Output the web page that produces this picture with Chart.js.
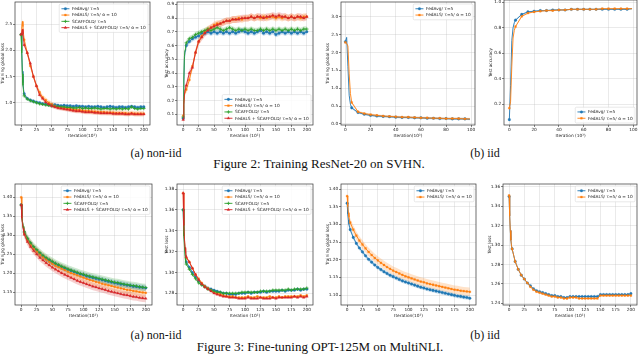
<!DOCTYPE html>
<html>
<head>
<meta charset="utf-8">
<script src="https://cdn.jsdelivr.net/npm/chart.js@4.4.0/dist/chart.umd.min.js"></script>
<style>
html, body { margin: 0; padding: 0; background: #fff; }
#page { position: relative; width: 640px; height: 354px; overflow: hidden; }
#page canvas { position: absolute; }
.cap { position: absolute; font-family: "Liberation Serif", "Times New Roman", serif; color: #111; white-space: nowrap; transform: translate(-50%, -50%); }
</style>
</head>
<body>
<div id="page">
  <div class="cap" style="left:156px;top:153px;font-size:12px">(a) non-iid</div>
  <div class="cap" style="left:485px;top:153px;font-size:12px">(b) iid</div>
  <div class="cap" style="left:319px;top:164px;font-size:13px">Figure 2: Training ResNet-20 on SVHN.</div>
  <div class="cap" style="left:156px;top:335px;font-size:12px">(a) non-iid</div>
  <div class="cap" style="left:485px;top:335px;font-size:12px">(b) iid</div>
  <div class="cap" style="left:320px;top:347px;font-size:13px">Figure 3: Fine-tuning OPT-125M on MultiNLI.</div>
</div>
<script>
// ---- data ----
const itersLong = [0, 1, 2, 3, 4, 5,
  10, 15, 20, 25, 30, 35, 40, 45, 50, 55,
  60, 65, 70, 75, 80, 85, 90, 95, 100, 105,
  110, 115, 120, 125, 130, 135, 140, 145, 150, 155,
  160, 165, 170, 175, 180, 185, 190, 195, 200];
const itersShort = [0, 1, 2, 3, 4, 5,
  10, 15, 20, 25, 30, 35, 40, 45, 50, 55,
  60, 65, 70, 75, 80, 85, 90, 95, 99];

const seriesNames = {
  avg: 'FedAvg/ τ=5',
  als: 'FedALS/ τ=5/ α = 10',
  scaf: 'SCAFFOLD/ τ=5',
  both: 'FedALS + SCAFFOLD/ τ=5/ α = 10'
};

// Figure 2 (a) non-iid: training loss
const svhnNonIidLossAvg = [2.30, 2.00, 1.60, 1.38, 1.25, 1.17,
  1.08, 1.05, 1.03, 1.01, 1.00, 0.98, 0.97, 0.96, 0.96, 0.96,
  0.95, 0.94, 0.95, 0.94, 0.94, 0.93, 0.94, 0.93, 0.93, 0.92,
  0.93, 0.92, 0.92, 0.93, 0.92, 0.91, 0.92, 0.93, 0.92, 0.91,
  0.92, 0.92, 0.91, 0.92, 0.93, 0.92, 0.91, 0.92, 0.92];
const svhnNonIidLossAls = [2.30, 2.45, 2.55, 2.45, 2.30, 2.20,
  1.95, 1.70, 1.50, 1.32, 1.20, 1.10, 1.05, 1.00, 0.97, 0.94,
  0.92, 0.91, 0.90, 0.89, 0.88, 0.87, 0.86, 0.86, 0.85, 0.84,
  0.84, 0.83, 0.83, 0.82, 0.82, 0.82, 0.81, 0.81, 0.81, 0.80,
  0.80, 0.80, 0.80, 0.79, 0.80, 0.79, 0.79, 0.79, 0.79];
const svhnNonIidLossScaf = [2.30, 1.95, 1.55, 1.33, 1.20, 1.13,
  1.07, 1.04, 1.02, 1.00, 0.98, 0.97, 0.96, 0.95, 0.94, 0.93,
  0.93, 0.92, 0.92, 0.91, 0.91, 0.90, 0.90, 0.91, 0.89, 0.90,
  0.89, 0.89, 0.90, 0.89, 0.88, 0.89, 0.89, 0.88, 0.89, 0.88,
  0.89, 0.88, 0.89, 0.88, 0.92, 0.89, 0.88, 0.89, 0.89];
const svhnNonIidLossBoth = [2.30, 2.35, 2.40, 2.30, 2.20, 2.10,
  1.95, 1.75, 1.50, 1.32, 1.15, 1.08, 1.01, 0.97, 0.94, 0.92,
  0.90, 0.89, 0.88, 0.87, 0.86, 0.85, 0.84, 0.84, 0.83, 0.82,
  0.82, 0.82, 0.81, 0.81, 0.80, 0.80, 0.80, 0.80, 0.79, 0.79,
  0.79, 0.79, 0.78, 0.78, 0.79, 0.78, 0.78, 0.78, 0.78];

// Figure 2 (a) non-iid: test accuracy
const svhnNonIidAccAvg = [0.07, 0.30, 0.50, 0.56, 0.58, 0.60,
  0.63, 0.65, 0.66, 0.67, 0.69, 0.69, 0.70, 0.69, 0.70, 0.69,
  0.70, 0.69, 0.70, 0.69, 0.70, 0.69, 0.70, 0.71, 0.70, 0.69,
  0.70, 0.69, 0.70, 0.71, 0.69, 0.70, 0.69, 0.70, 0.68, 0.69,
  0.70, 0.69, 0.70, 0.69, 0.70, 0.69, 0.70, 0.69, 0.70];
const svhnNonIidAccAls = [0.09, 0.18, 0.24, 0.26, 0.27, 0.28,
  0.35, 0.45, 0.55, 0.63, 0.67, 0.70, 0.72, 0.73, 0.75, 0.76,
  0.76, 0.77, 0.78, 0.78, 0.79, 0.79, 0.80, 0.79, 0.80, 0.80,
  0.81, 0.80, 0.81, 0.80, 0.81, 0.80, 0.81, 0.81, 0.80, 0.81,
  0.80, 0.81, 0.80, 0.81, 0.80, 0.81, 0.80, 0.81, 0.81];
const svhnNonIidAccScaf = [0.08, 0.35, 0.52, 0.57, 0.60, 0.62,
  0.65, 0.66, 0.68, 0.69, 0.70, 0.71, 0.72, 0.71, 0.72, 0.73,
  0.72, 0.71, 0.72, 0.73, 0.72, 0.71, 0.72, 0.71, 0.72, 0.71,
  0.72, 0.71, 0.71, 0.72, 0.71, 0.72, 0.71, 0.72, 0.71, 0.72,
  0.71, 0.72, 0.71, 0.72, 0.71, 0.72, 0.71, 0.72, 0.72];
const svhnNonIidAccBoth = [0.06, 0.17, 0.24, 0.28, 0.30, 0.31,
  0.40, 0.44, 0.55, 0.63, 0.66, 0.69, 0.71, 0.73, 0.74, 0.75,
  0.76, 0.77, 0.78, 0.78, 0.79, 0.79, 0.79, 0.80, 0.80, 0.80,
  0.81, 0.80, 0.81, 0.81, 0.80, 0.81, 0.81, 0.82, 0.81, 0.82,
  0.81, 0.81, 0.80, 0.81, 0.80, 0.81, 0.81, 0.80, 0.81];

// Figure 2 (b) iid
const svhnIidLossAvg = [2.30, 2.42, 1.60, 0.80, 0.55, 0.45,
  0.32, 0.27, 0.24, 0.22, 0.21, 0.20, 0.19, 0.18, 0.18, 0.17,
  0.17, 0.16, 0.16, 0.15, 0.15, 0.14, 0.14, 0.14, 0.13];
const svhnIidLossAls = [2.28, 2.25, 2.18, 1.40, 0.85, 0.60,
  0.34, 0.29, 0.26, 0.24, 0.22, 0.21, 0.20, 0.19, 0.19, 0.18,
  0.17, 0.17, 0.16, 0.16, 0.15, 0.15, 0.15, 0.14, 0.14];
const svhnIidAccAvg = [0.08, 0.35, 0.70, 0.80, 0.84, 0.86,
  0.905, 0.925, 0.93, 0.935, 0.935, 0.94, 0.94, 0.94, 0.945, 0.945,
  0.945, 0.945, 0.945, 0.945, 0.945, 0.945, 0.945, 0.945, 0.95];
const svhnIidAccAls = [0.17, 0.22, 0.50, 0.72, 0.78, 0.81,
  0.89, 0.915, 0.925, 0.93, 0.935, 0.935, 0.94, 0.94, 0.945, 0.945,
  0.945, 0.945, 0.945, 0.95, 0.95, 0.95, 0.95, 0.95, 0.95];

// Figure 3 (a) non-iid
const optNonIidLossAvg = [1.380, 1.350, 1.335, 1.322, 1.313, 1.307,
  1.290, 1.278, 1.267, 1.259, 1.251, 1.244, 1.238, 1.233, 1.228, 1.224,
  1.220, 1.216, 1.212, 1.209, 1.206, 1.203, 1.200, 1.197, 1.195, 1.192,
  1.190, 1.188, 1.186, 1.184, 1.182, 1.180, 1.178, 1.176, 1.174, 1.173,
  1.171, 1.170, 1.168, 1.167, 1.165, 1.164, 1.163, 1.162, 1.161];
const optNonIidLossAls = [1.400, 1.355, 1.335, 1.322, 1.313, 1.306,
  1.288, 1.276, 1.265, 1.257, 1.249, 1.242, 1.236, 1.230, 1.225, 1.220,
  1.216, 1.212, 1.208, 1.204, 1.200, 1.197, 1.194, 1.191, 1.188, 1.185,
  1.182, 1.180, 1.177, 1.175, 1.172, 1.170, 1.168, 1.166, 1.164, 1.162,
  1.160, 1.158, 1.156, 1.155, 1.153, 1.152, 1.150, 1.149, 1.148];
const optNonIidLossScaf = [1.380, 1.350, 1.336, 1.324, 1.315, 1.309,
  1.292, 1.280, 1.270, 1.262, 1.254, 1.247, 1.241, 1.236, 1.231, 1.226,
  1.222, 1.218, 1.215, 1.211, 1.208, 1.205, 1.202, 1.199, 1.197, 1.194,
  1.192, 1.190, 1.188, 1.186, 1.184, 1.182, 1.180, 1.178, 1.176, 1.175,
  1.173, 1.171, 1.170, 1.168, 1.167, 1.166, 1.164, 1.163, 1.162];
const optNonIidLossBoth = [1.380, 1.345, 1.330, 1.318, 1.309, 1.302,
  1.283, 1.270, 1.259, 1.250, 1.241, 1.234, 1.227, 1.221, 1.215, 1.210,
  1.205, 1.200, 1.196, 1.192, 1.188, 1.184, 1.180, 1.177, 1.174, 1.171,
  1.168, 1.165, 1.163, 1.160, 1.158, 1.156, 1.153, 1.151, 1.149, 1.147,
  1.145, 1.143, 1.142, 1.140, 1.138, 1.137, 1.135, 1.134, 1.133];

const optNonIidTestAvg = [1.360, 1.340, 1.330, 1.320, 1.314, 1.310,
  1.305, 1.300, 1.296, 1.292, 1.289, 1.287, 1.285, 1.284, 1.283, 1.282,
  1.281, 1.280, 1.280, 1.279, 1.279, 1.279, 1.280, 1.280, 1.280, 1.281,
  1.280, 1.281, 1.281, 1.281, 1.282, 1.281, 1.282, 1.282, 1.282, 1.282,
  1.283, 1.282, 1.283, 1.283, 1.283, 1.284, 1.283, 1.284, 1.284];
const optNonIidTestAls = [1.376, 1.345, 1.332, 1.323, 1.318, 1.314,
  1.310, 1.304, 1.298, 1.294, 1.290, 1.287, 1.285, 1.283, 1.281, 1.280,
  1.279, 1.278, 1.277, 1.277, 1.277, 1.276, 1.276, 1.276, 1.276, 1.277,
  1.276, 1.276, 1.277, 1.276, 1.276, 1.276, 1.277, 1.276, 1.276, 1.277,
  1.276, 1.277, 1.277, 1.277, 1.277, 1.277, 1.278, 1.277, 1.278];
const optNonIidTestScaf = [1.360, 1.335, 1.325, 1.315, 1.310, 1.308,
  1.303, 1.298, 1.294, 1.290, 1.288, 1.286, 1.284, 1.283, 1.282, 1.281,
  1.281, 1.280, 1.280, 1.280, 1.280, 1.280, 1.280, 1.281, 1.281, 1.281,
  1.281, 1.281, 1.281, 1.282, 1.282, 1.282, 1.282, 1.283, 1.283, 1.283,
  1.283, 1.283, 1.284, 1.283, 1.284, 1.284, 1.284, 1.284, 1.285];
const optNonIidTestBoth = [1.376, 1.345, 1.333, 1.324, 1.319, 1.315,
  1.310, 1.304, 1.298, 1.293, 1.289, 1.286, 1.284, 1.282, 1.280, 1.279,
  1.278, 1.277, 1.277, 1.276, 1.276, 1.276, 1.275, 1.275, 1.275, 1.276,
  1.275, 1.275, 1.275, 1.276, 1.275, 1.275, 1.275, 1.276, 1.275, 1.276,
  1.276, 1.276, 1.276, 1.276, 1.277, 1.276, 1.277, 1.276, 1.277];

// Figure 3 (b) iid
const optIidLossAvg = [1.360, 1.330, 1.313, 1.300, 1.292, 1.285,
  1.263, 1.246, 1.233, 1.222, 1.211, 1.201, 1.193, 1.185, 1.178, 1.172,
  1.166, 1.161, 1.156, 1.152, 1.148, 1.144, 1.140, 1.137, 1.134, 1.131,
  1.128, 1.125, 1.122, 1.120, 1.117, 1.115, 1.113, 1.111, 1.109, 1.107,
  1.105, 1.103, 1.101, 1.099, 1.097, 1.096, 1.094, 1.093, 1.091];
const optIidLossAls = [1.380, 1.350, 1.333, 1.320, 1.311, 1.305,
  1.285, 1.268, 1.254, 1.243, 1.232, 1.222, 1.213, 1.205, 1.198, 1.191,
  1.185, 1.179, 1.174, 1.169, 1.165, 1.161, 1.157, 1.153, 1.150, 1.147,
  1.144, 1.141, 1.138, 1.136, 1.133, 1.131, 1.129, 1.127, 1.125, 1.123,
  1.121, 1.119, 1.117, 1.115, 1.114, 1.112, 1.111, 1.110, 1.109];
const optIidTestAvg = [1.350, 1.330, 1.315, 1.305, 1.299, 1.296,
  1.283, 1.275, 1.269, 1.265, 1.261, 1.258, 1.255, 1.253, 1.252, 1.251,
  1.250, 1.249, 1.248, 1.248, 1.247, 1.247, 1.246, 1.246, 1.247, 1.247,
  1.247, 1.247, 1.247, 1.247, 1.247, 1.247, 1.247, 1.247, 1.249, 1.249,
  1.249, 1.249, 1.249, 1.249, 1.249, 1.249, 1.249, 1.249, 1.250];
const optIidTestAls = [1.351, 1.330, 1.315, 1.305, 1.299, 1.296,
  1.283, 1.275, 1.269, 1.265, 1.261, 1.257, 1.254, 1.252, 1.251, 1.250,
  1.249, 1.248, 1.247, 1.247, 1.246, 1.246, 1.245, 1.245, 1.246, 1.246,
  1.246, 1.245, 1.245, 1.245, 1.245, 1.245, 1.245, 1.245, 1.248, 1.248,
  1.248, 1.248, 1.248, 1.248, 1.248, 1.248, 1.248, 1.248, 1.248];

// shaded spread around each curve (+/-)
const svhnNonIidLossSpread = [0.03, 0.05, 0.03, 0.04];
const svhnNonIidAccSpread = [0.02, 0.025, 0.02, 0.025];
const svhnIidLossSpread = [0.03, 0.03];
const svhnIidAccSpread = [0.005, 0.005];
const optNonIidLossSpread = [0.008, 0.012, 0.010, 0.010];
const optNonIidTestSpread = [0.001, 0.001, 0.0012, 0.001];
const optIidLossSpread = [0.006, 0.012];
const optIidTestSpread = [0.0005, 0.0005];

// tick values / labels
const ticksX200 = [0, 25, 50, 75, 100, 125, 150, 175, 200];
const ticksX100 = [0, 20, 40, 60, 80, 100];
const ticksSvhnNonIidLoss = ['1.0', '1.5', '2.0', '2.5'];
const ticksSvhnNonIidAcc = ['0.1', '0.2', '0.3', '0.4', '0.5', '0.6', '0.7', '0.8', '0.9'];
const ticksSvhnIidLoss = ['0.0', '0.5', '1.0', '1.5', '2.0', '2.5', '3.0'];
const ticksSvhnIidAcc = ['0.2', '0.4', '0.6', '0.8', '1.0'];
const ticksOptNonIidLoss = ['1.15', '1.20', '1.25', '1.30', '1.35', '1.40'];
const ticksOptNonIidTest = ['1.28', '1.30', '1.32', '1.34', '1.36', '1.38'];
const ticksOptIidLoss = ['1.10', '1.15', '1.20', '1.25', '1.30', '1.35', '1.40'];
const ticksOptIidTest = ['1.24', '1.26', '1.28', '1.30', '1.32', '1.34', '1.36'];

// ---- styling ----
const FONT = 'DejaVu Sans';
const colors = { avg: '#1f77b4', als: '#ff7f0e', scaf: '#2ca02c', both: '#d62728' };
const bands = { avg: 'rgba(31,119,180,0.22)', als: 'rgba(255,127,14,0.22)', scaf: 'rgba(44,160,44,0.22)', both: 'rgba(214,39,40,0.22)' };
const markers = { avg: 'circle', als: 'rect', scaf: 'cross', both: 'triangle' };
const markerR = { avg: 1.3, als: 1.3, scaf: 1.7, both: 1.6 };

function setMarkerPaint(ctx, key) {
  ctx.fillStyle = colors[key];
  ctx.strokeStyle = colors[key];
  ctx.lineWidth = key === 'scaf' ? 0.8 : 0.3;
}

const framePlugin = {
  id: 'frame',
  afterDatasetsDraw(chart) {
    const a = chart.chartArea, ctx = chart.ctx;
    ctx.save();
    ctx.strokeStyle = '#333';
    ctx.lineWidth = 0.7;
    ctx.strokeRect(a.left, a.top, a.right - a.left, a.bottom - a.top);
    ctx.restore();
  }
};

const legendPlugin = {
  id: 'insideLegend',
  afterDatasetsDraw(chart, args, opts) {
    const keys = opts.keys;
    if (!keys) return;
    const ctx = chart.ctx, a = chart.chartArea;
    const rowH = 6.3, hl = 8, pad = 2.2, margin = 2;
    ctx.save();
    ctx.font = '4.3px "' + FONT + '"';
    const tw = Math.max(...keys.map(k => ctx.measureText(seriesNames[k]).width));
    const w = pad + hl + 2.5 + tw + pad;
    const h = 2 * 1.6 + rowH * keys.length;
    const x = a.right - margin - w;
    const y = opts.pos === 'tr' ? a.top + margin : a.bottom - margin - h;
    ctx.fillStyle = 'rgba(255,255,255,0.85)';
    ctx.strokeStyle = '#d0d0d0';
    ctx.lineWidth = 0.5;
    ctx.beginPath();
    ctx.roundRect(x, y, w, h, 1.2);
    ctx.fill();
    ctx.stroke();
    keys.forEach((k, i) => {
      const cy = y + 1.6 + rowH * (i + 0.5);
      ctx.strokeStyle = colors[k];
      ctx.lineWidth = 0.9;
      ctx.beginPath();
      ctx.moveTo(x + pad, cy);
      ctx.lineTo(x + pad + hl, cy);
      ctx.stroke();
      setMarkerPaint(ctx, k);
      Chart.helpers.drawPoint(ctx, { pointStyle: markers[k], radius: markerR[k], rotation: 0, borderWidth: ctx.lineWidth }, x + pad + hl / 2, cy);
      ctx.fillStyle = '#222';
      ctx.textBaseline = 'middle';
      ctx.fillText(seriesNames[k], x + pad + hl + 2.5, cy + 0.2);
    });
    ctx.restore();
  }
};

function buildPanel(p) {
  const padTop = 6, padRight = 6;
  const cv = document.createElement('canvas');
  cv.width = p.yw + (p.R - p.L) + padRight;
  cv.height = padTop + (p.B - p.T) + p.xh;
  cv.style.left = (p.L - p.yw) + 'px';
  cv.style.top = (p.T - padTop) + 'px';
  document.getElementById('page').appendChild(cv);

  const datasets = [];
  p.keys.forEach((k, i) => {
    const ys = p.ys[i], sp = p.spread[i];
    datasets.push({
      data: p.xs.map((x, j) => ({ x, y: ys[j] - sp })),
      borderColor: 'transparent', borderWidth: 0, pointRadius: 0, fill: false, order: 20 + i
    });
    datasets.push({
      data: p.xs.map((x, j) => ({ x, y: ys[j] + sp })),
      borderColor: 'transparent', borderWidth: 0, pointRadius: 0, fill: '-1',
      backgroundColor: bands[k], order: 20 + i
    });
  });
  p.keys.forEach((k, i) => {
    datasets.push({
      data: p.xs.map((x, j) => ({ x, y: p.ys[i][j] })),
      borderColor: colors[k],
      backgroundColor: colors[k],
      borderWidth: 0.9,
      tension: 0,
      fill: false,
      pointStyle: markers[k],
      pointRadius: c => (p.xs[c.dataIndex] % 5 === 0 ? markerR[k] : 0),
      pointBorderWidth: k === 'scaf' ? 0.8 : 0.3,
      pointBackgroundColor: colors[k],
      pointBorderColor: colors[k],
      order: 10 - i
    });
  });

  const tickFont = { family: FONT, size: 4.3 };
  new Chart(cv, {
    type: 'line',
    data: { datasets },
    options: {
      responsive: false,
      animation: false,
      devicePixelRatio: 1,
      events: [],
      layout: { padding: { top: padTop, right: padRight, left: 0, bottom: 0 } },
      plugins: {
        legend: { display: false },
        tooltip: { enabled: false },
        insideLegend: { keys: p.keys, pos: p.legendPos }
      },
      scales: {
        x: {
          type: 'linear', min: p.xMin, max: p.xMax,
          afterBuildTicks: s => { s.ticks = p.xTicks.map(v => ({ value: v })); },
          afterFit: s => { s.height = p.xh; },
          ticks: { font: tickFont, color: '#222', padding: 0.5, maxRotation: 0, autoSkip: false, callback: v => String(v) },
          grid: { color: 'rgba(176,176,176,0.45)', lineWidth: 0.6, tickLength: 2, tickColor: '#333', tickWidth: 0.6 },
          border: { display: false },
          title: { display: true, text: p.xTitle, font: tickFont, color: '#222', padding: 0 }
        },
        y: {
          type: 'linear', min: p.yMin, max: p.yMax,
          afterBuildTicks: s => { s.ticks = p.yTicks.map(v => ({ value: parseFloat(v) })); },
          afterFit: s => { s.width = p.yw; },
          ticks: { font: tickFont, color: '#222', padding: 0.8, autoSkip: false, callback: (v, i) => p.yTicks[i] },
          grid: { color: 'rgba(176,176,176,0.45)', lineWidth: 0.6, tickLength: 2, tickColor: '#333', tickWidth: 0.6 },
          border: { display: false },
          title: { display: true, text: p.yTitle, font: tickFont, color: '#222', padding: 0 }
        }
      }
    },
    plugins: [framePlugin, legendPlugin]
  });
}

const allKeys = ['avg', 'als', 'scaf', 'both'];
const twoKeys = ['avg', 'als'];

const panels = [
  { L: 15, R: 150, T: 2, B: 125, yw: 15, xh: 13, xMin: -10, xMax: 210, yMin: 0.575, yMax: 2.92,
    xs: itersLong, keys: allKeys, ys: [svhnNonIidLossAvg, svhnNonIidLossAls, svhnNonIidLossScaf, svhnNonIidLossBoth],
    spread: svhnNonIidLossSpread, xTicks: ticksX200, yTicks: ticksSvhnNonIidLoss,
    xTitle: 'Iteration(10²)', yTitle: 'Training global loss', legendPos: 'tr' },
  { L: 177, R: 313, T: 2, B: 125, yw: 13, xh: 13, xMin: -10, xMax: 210, yMin: 0.022, yMax: 0.917,
    xs: itersLong, keys: allKeys, ys: [svhnNonIidAccAvg, svhnNonIidAccAls, svhnNonIidAccScaf, svhnNonIidAccBoth],
    spread: svhnNonIidAccSpread, xTicks: ticksX200, yTicks: ticksSvhnNonIidAcc,
    xTitle: 'Iteration (10²)', yTitle: 'Test accuracy', legendPos: 'br' },
  { L: 341, R: 475, T: 2, B: 125, yw: 16, xh: 13, xMin: -3.5, xMax: 103, yMin: -0.03, yMax: 3.41,
    xs: itersShort, keys: twoKeys, ys: [svhnIidLossAvg, svhnIidLossAls],
    spread: svhnIidLossSpread, xTicks: ticksX100, yTicks: ticksSvhnIidLoss,
    xTitle: 'Iteration(10²)', yTitle: 'Training global loss', legendPos: 'tr' },
  { L: 504, R: 637, T: 0, B: 125, yw: 16, xh: 13, xMin: -4.3, xMax: 103, yMin: 0.038, yMax: 1.018,
    xs: itersShort, keys: twoKeys, ys: [svhnIidAccAvg, svhnIidAccAls],
    spread: svhnIidAccSpread, xTicks: ticksX100, yTicks: ticksSvhnIidAcc,
    xTitle: 'Iteration (10²)', yTitle: 'Test accuracy', legendPos: 'br' },
  { L: 15, R: 152, T: 184, B: 305, yw: 15, xh: 13, xMin: -10, xMax: 210, yMin: 1.116, yMax: 1.435,
    xs: itersLong, keys: allKeys, ys: [optNonIidLossAvg, optNonIidLossAls, optNonIidLossScaf, optNonIidLossBoth],
    spread: optNonIidLossSpread, xTicks: ticksX200, yTicks: ticksOptNonIidLoss,
    xTitle: 'Iteration(10²)', yTitle: 'Training global loss', legendPos: 'tr' },
  { L: 177, R: 313, T: 184, B: 305, yw: 13, xh: 13, xMin: -10, xMax: 210, yMin: 1.2688, yMax: 1.3848,
    xs: itersLong, keys: allKeys, ys: [optNonIidTestAvg, optNonIidTestAls, optNonIidTestScaf, optNonIidTestBoth],
    spread: optNonIidTestSpread, xTicks: ticksX200, yTicks: ticksOptNonIidTest,
    xTitle: 'Iteration (10²)', yTitle: 'Test loss', legendPos: 'tr' },
  { L: 341, R: 476, T: 184, B: 305, yw: 16, xh: 13, xMin: -10, xMax: 210, yMin: 1.0717, yMax: 1.4142,
    xs: itersLong, keys: twoKeys, ys: [optIidLossAvg, optIidLossAls],
    spread: optIidLossSpread, xTicks: ticksX200, yTicks: ticksOptIidLoss,
    xTitle: 'Iteration(10²)', yTitle: 'Training global loss', legendPos: 'tr' },
  { L: 503, R: 637, T: 184, B: 305, yw: 16, xh: 13, xMin: -10, xMax: 210, yMin: 1.2383, yMax: 1.3628,
    xs: itersLong, keys: twoKeys, ys: [optIidTestAvg, optIidTestAls],
    spread: optIidTestSpread, xTicks: ticksX200, yTicks: ticksOptIidTest,
    xTitle: 'Iteration (10²)', yTitle: 'Test loss', legendPos: 'tr' }
];

panels.forEach(buildPanel);
</script>
</body>
</html>
